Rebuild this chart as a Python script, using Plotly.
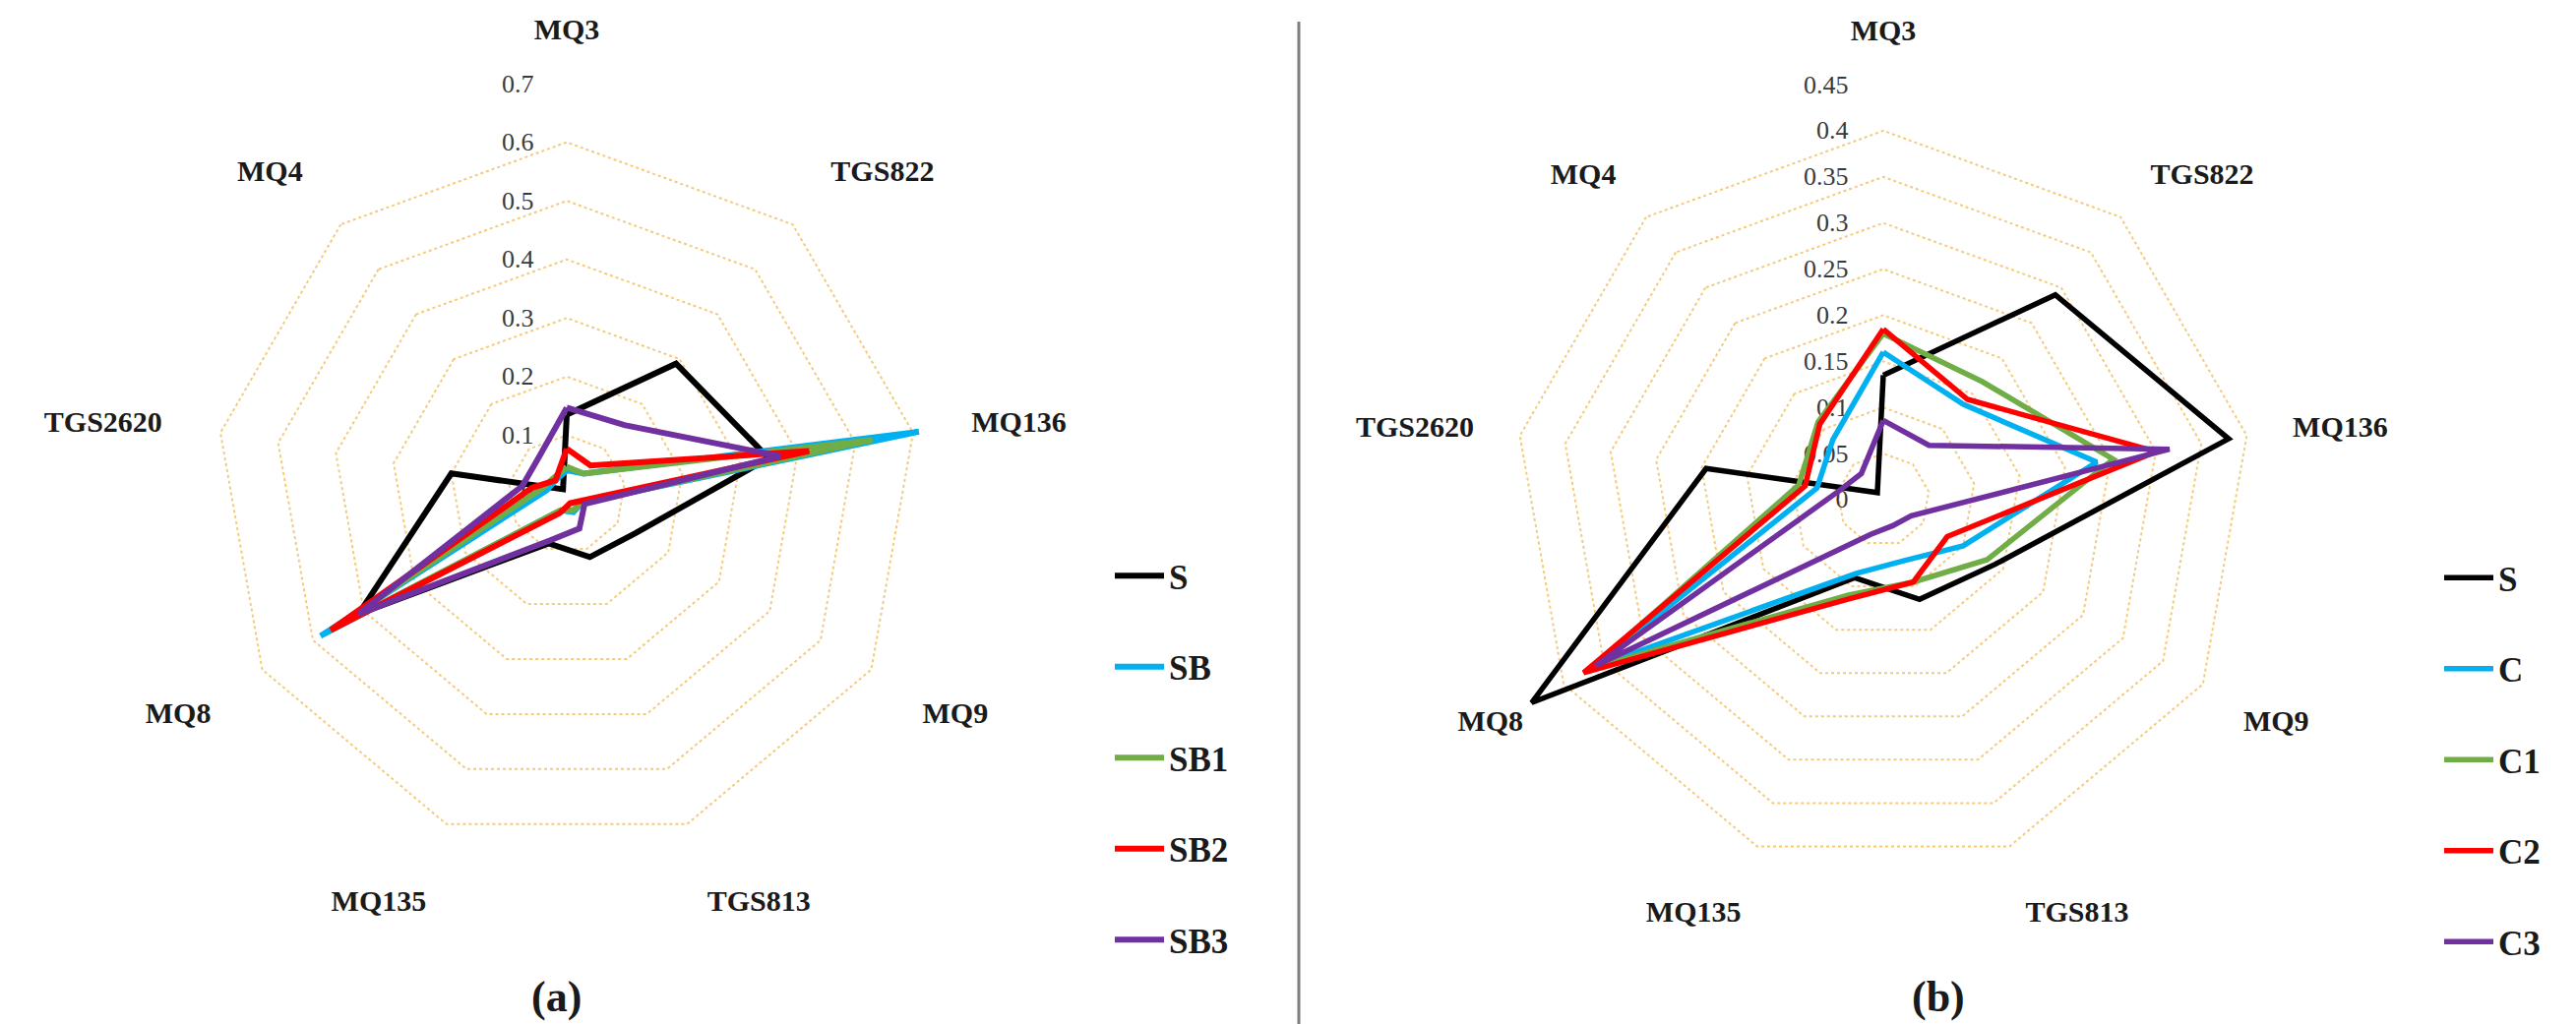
import plotly.graph_objects as go

sensors = ["MQ3", "TGS822", "MQ136", "MQ9", "TGS813", "MQ135", "MQ8", "TGS2620", "MQ4"]
sensor_labels = ["MQ3<br> ", "TGS822", "MQ136", "MQ9", "TGS813", "MQ135", "MQ8", "TGS2620", "MQ4"]

# Panel (a)
a_names = ["S", "SB", "SB1", "SB2", "SB3"]
a_S = [0.135, 0.29, 0.35, 0.135, 0.115, 0.09, 0.41, 0.20, 0.01]
a_SB = [0.04, 0.045, 0.61, 0.03, 0.033, 0.03, 0.485, 0.035, 0.03]
a_SB1 = [0.046, 0.045, 0.53, 0.03, 0.03, 0.03, 0.465, 0.045, 0.035]
a_SB2 = [0.077, 0.063, 0.42, 0.025, 0.017, 0.035, 0.465, 0.06, 0.03]
a_SB3 = [0.147, 0.153, 0.37, 0.035, 0.063, 0.085, 0.41, 0.077, 0.077]
a_ticks = [0, 0.1, 0.2, 0.3, 0.4, 0.5, 0.6, 0.7]
a_ticktext = ["0", "0.1", "0.2", "0.3", "0.4", "0.5", "0.6", "0.7"]

# Panel (b)
b_names = ["S", "C", "C1", "C2", "C3"]
b_S = [0.135, 0.29, 0.38, 0.14, 0.115, 0.09, 0.44, 0.195, 0.01]
b_C = [0.16, 0.135, 0.235, 0.10, 0.07, 0.085, 0.365, 0.073, 0.085]
b_C1 = [0.18, 0.167, 0.253, 0.13, 0.095, 0.11, 0.365, 0.093, 0.11]
b_C2 = [0.185, 0.142, 0.30, 0.08, 0.095, 0.115, 0.375, 0.086, 0.107]
b_C3 = [0.086, 0.077, 0.315, 0.035, 0.03, 0.04, 0.36, 0.05, 0.037]
b_ticks = [0, 0.05, 0.1, 0.15, 0.2, 0.25, 0.3, 0.35, 0.4, 0.45]
b_ticktext = ["0", "0.05", "0.1", "0.15", "0.2", "0.25", "0.3", "0.35", "0.4", "0.45"]

colors = ["#000000", "#00B0F0", "#70AD47", "#FF0000", "#7030A0"]

SERIF = "Liberation Serif, Times New Roman, serif"

fig = go.Figure()

def closed(v):
    return list(v) + [v[0]]

theta_c = closed(sensors)

for name, vals, col in zip(a_names, [a_S, a_SB, a_SB1, a_SB2, a_SB3], colors):
    fig.add_trace(go.Scatterpolar(
        r=closed(vals), theta=theta_c, mode="lines", name=name,
        line=dict(color=col, width=6), subplot="polar", legend="legend",
        legendgroup="a" + name))

for name, vals, col in zip(b_names, [b_S, b_C, b_C1, b_C2, b_C3], colors):
    fig.add_trace(go.Scatterpolar(
        r=closed(vals), theta=theta_c, mode="lines", name=name,
        line=dict(color=col, width=5.5), subplot="polar2", legend="legend2",
        legendgroup="b" + name))

W, H = 2618, 1041

def dom(cx, cy, R):
    return dict(x=[(cx - R) / W, (cx + R) / W], y=[1 - (cy + R) / H, 1 - (cy - R) / H])

grid_col = "#F3CB7C"

def polar_layout(cx, cy, R, ticks, ticktext, rmax, tlen):
    return dict(
        domain=dom(cx, cy, R),
        gridshape="linear",
        bgcolor="white",
        angularaxis=dict(
            direction="clockwise", rotation=90, showgrid=False, showline=False,
            ticks="", categoryorder="array", categoryarray=sensors,
            tickmode="array", tickvals=sensors, ticktext=sensor_labels,
            tickfont=dict(family=SERIF, size=30, color="#1a1a1a", weight="bold"),
        ),
        radialaxis=dict(
            range=[0, rmax], angle=90, tickangle=90, showline=False,
            ticks="outside", ticklen=tlen, tickcolor="rgba(0,0,0,0)",
            tickvals=ticks, ticktext=ticktext, showgrid=True,
            gridcolor=grid_col, gridwidth=1.5, griddash="dot",
            tickfont=dict(family=SERIF, size=26, color="#3a3a3a"),
            side="counterclockwise", layer="below traces",
        ),
    )

legend_common = dict(
    font=dict(family=SERIF, size=35, color="#1a1a1a", weight="bold"),
    tracegroupgap=44, bgcolor="rgba(0,0,0,0)", itemwidth=50,
    xanchor="left", yanchor="top",
)

fig.update_layout(
    width=W, height=H,
    margin=dict(l=0, r=0, t=0, b=0),
    paper_bgcolor="white", plot_bgcolor="white",
    polar=polar_layout(568, 494, 417, a_ticks, a_ticktext, 0.7001, 24),
    polar2=polar_layout(1906, 500, 422, b_ticks, b_ticktext, 0.45005, 26),
    legend=dict(x=1120 / W, y=1 - 548 / H, **legend_common),
    legend2=dict(x=2471 / W, y=1 - 550 / H, **legend_common),
    showlegend=True,
    annotations=[
        dict(text="<b>(a)</b>", x=557 / W, y=1 - 1005 / H, xref="paper", yref="paper",
             xanchor="center", yanchor="middle",
             showarrow=False, font=dict(family=SERIF, size=44, color="#1a1a1a")),
        dict(text="<b>(b)</b>", x=1962 / W, y=1 - 1005 / H, xref="paper", yref="paper",
             xanchor="center", yanchor="middle",
             showarrow=False, font=dict(family=SERIF, size=44, color="#1a1a1a")),
    ],
    shapes=[
        dict(type="line", xref="paper", yref="paper", x0=1312 / W, x1=1312 / W,
             y0=0, y1=1 - 14 / H, line=dict(color="#7f7f7f", width=3)),
    ],
)

fig.write_html("out.html")
